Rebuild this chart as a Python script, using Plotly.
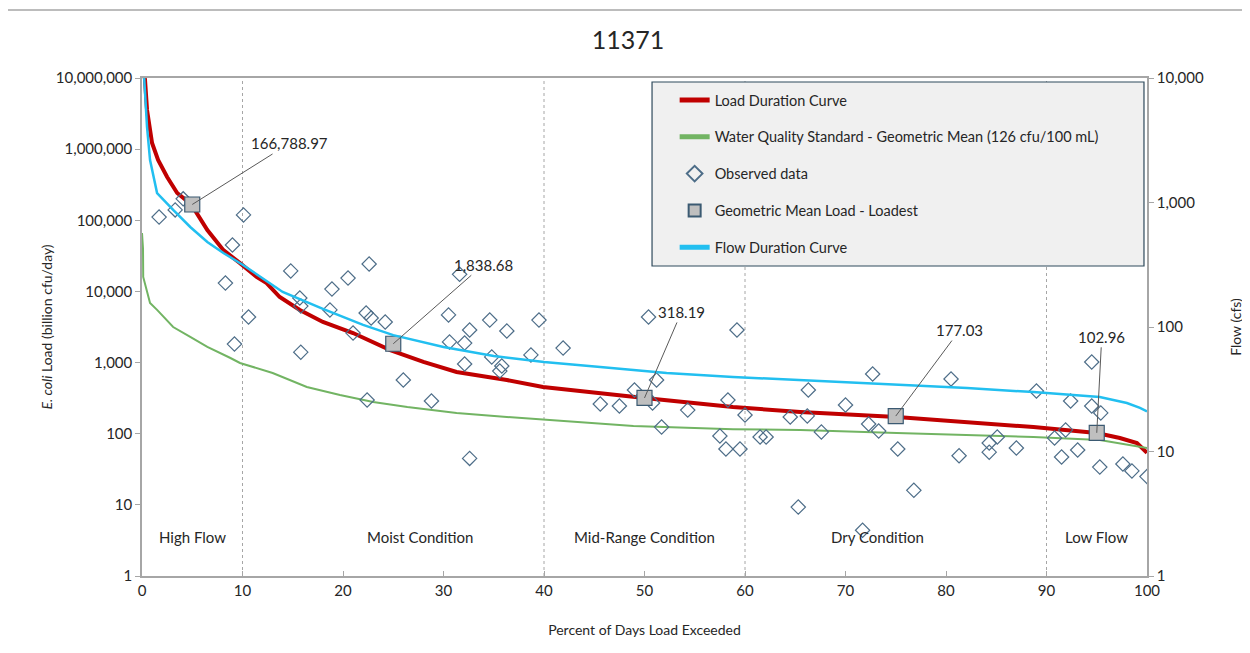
import numpy as np
import plotly.graph_objects as go

# ---------------- data ----------------
ldc_pct = [0, 0.3, 0.5, 1.0, 1.6, 2.5, 3.5, 4.9, 6.5, 8.1, 9.75, 11.4, 12.4, 13.7, 15.7, 18.0,
           21.0, 24.7, 28.0, 31.3, 36.3, 39.9, 50.0, 58.8, 65.5, 75.1, 88.7, 95.0, 97.3, 99.0, 100]
ldc_load = [2.0e7, 9.4e6, 3.55e6, 1.22e6, 7.03e5, 4.06e5, 2.42e5, 1.67e5, 7.3e4, 3.8e4, 2.5e4, 1.6e4,
            1.31e4, 8350, 5490, 3720, 2600, 1500, 1020, 737, 569, 454, 318, 237, 202, 172, 124,
            102, 87, 74, 54]

wqs_pct = [0, 0.1, 0.12, 0.5, 0.8, 1.5, 3.1, 4.8, 6.5, 8.8, 9.75, 13.0, 16.4, 19.7, 23.0, 26.4,
           31.3, 36.3, 41.9, 48.9, 58.8, 65.5, 75.1, 88.7, 95.3, 98.6, 100]
wqs_load = [66000, 40000, 16000, 9500, 6900, 5500, 3160, 2290, 1660, 1160, 986, 713, 454, 350, 279,
            237, 195, 172, 151, 128, 116, 113, 102, 90, 81.5, 69, 63]

flow_pct = [0, 0.2, 0.5, 0.8, 1.5, 3.1, 4.8, 6.5, 8.1, 10.05, 14.0, 18.0, 22.0, 25.0, 30.0, 35.0,
            40.0, 45.6, 52.2, 58.8, 65.5, 68.8, 75.4, 82.1, 88.7, 95.3, 98.0, 99.3, 100]
flow_cfs = [20000, 9640, 4040, 2190, 1190, 871, 636, 482, 393, 315, 191, 140, 104, 86, 69, 58.5,
            52.4, 47.7, 42.8, 39.7, 37.5, 36.1, 34.2, 32.4, 30.0, 27.4, 24.5, 22.4, 21.0]

obs_pct = [1.7, 3.3, 4.1, 10.1, 8.3, 9.0, 9.2, 10.6, 14.8, 15.7, 15.8, 15.8, 18.9, 18.7, 20.5, 22.6,
           21.0, 22.3, 22.8, 24.2, 22.4, 26.0, 28.8, 30.5, 31.6, 30.6, 32.1, 32.6, 32.1, 32.6, 34.6,
           34.8, 35.6, 35.8, 36.3, 38.7, 39.5, 41.9, 45.6, 47.5, 49.0, 50.4, 51.2, 50.8, 51.7, 54.3,
           57.5, 58.1, 58.3, 59.2, 60.0, 59.5, 61.5, 62.1, 65.3, 64.5, 66.2, 66.3, 67.6, 72.7, 70.0,
           72.3, 73.3, 75.2, 71.7, 76.8, 80.5, 81.3, 84.3, 84.3, 85.1, 87.0, 89.0, 90.8, 92.4, 91.9,
           91.5, 93.1, 94.5, 94.5, 95.4, 95.3, 97.6, 98.5, 100.0]
obs_load = [111000, 140000, 200000, 119000, 13100, 45000, 1820, 4370, 19400, 8080, 6230, 1400, 10800,
            5500, 15400, 24300, 2600, 4980, 4230, 3720, 298, 569, 288, 4670, 17400, 1950, 1880, 2870,
            955, 45, 3960, 1200, 760, 895, 2780, 1280, 3960, 1600, 262, 245, 411, 4370, 569, 270, 124,
            215, 93, 61, 298, 2870, 183, 61, 90, 90, 9.3, 172, 178, 411, 106, 690, 253, 137, 109, 61,
            4.4, 16, 587, 49, 74, 55, 90, 63, 398, 87, 288, 113, 47, 59, 1020, 245, 196, 34, 37.5,
            30, 25]

gm_pct = [5, 25, 50, 75, 95]
gm_load = [166788.97, 1838.68, 318.19, 177.03, 102.96]
gm_label_dx = [97, 90, 37, 64, 5]
gm_label_dy = [-61, -79, -86, -86, -96]

zone_names = ["High Flow", "Moist Condition", "Mid-Range Condition", "Dry Condition", "Low Flow"]
zone_label_x = [5, 27.7, 50, 73.2, 95]
zone_bounds = [10, 40, 60, 90]

# ---------------- figure ----------------
FONT = "Lato, 'Open Sans', sans-serif"
fig = go.Figure()

fig.add_trace(go.Scatter(x=ldc_pct, y=ldc_load, mode="lines", name="Load Duration Curve",
                         line=dict(color="#c00000", width=4), legendgroup="g1"))
fig.add_trace(go.Scatter(x=wqs_pct, y=wqs_load, mode="lines",
                         name="Water Quality Standard - Geometric Mean (126 cfu/100 mL)",
                         line=dict(color="#72b463", width=2), legendgroup="g2"))
fig.add_trace(go.Scatter(x=obs_pct, y=obs_load, mode="markers", name="Observed data",
                         marker=dict(symbol="diamond-open", size=11, color="#4d6d88",
                                     line=dict(width=1.2)), legendgroup="g3"))
fig.add_trace(go.Scatter(x=gm_pct, y=gm_load, mode="markers", name="Geometric Mean Load - Loadest",
                         marker=dict(symbol="square", size=15, color="#bfbfbf",
                                     line=dict(color="#3b5a72", width=1.2)), legendgroup="g4"))
fig.add_trace(go.Scatter(x=flow_pct, y=flow_cfs, mode="lines", name="Flow Duration Curve",
                         yaxis="y2", line=dict(color="#22bff0", width=2.5), legendgroup="g5"))

shapes = []
for b in zone_bounds:
    shapes.append(dict(type="line", xref="x", yref="paper", x0=b, x1=b, y0=0, y1=1,
                       line=dict(color="#a6a6a6", width=1, dash="dot"), layer="below"))
# top rule of the page
shapes.append(dict(type="line", xref="paper", yref="paper", x0=-0.138, x1=1.105, y0=1.1365, y1=1.1365,
                   line=dict(color="#a6a6a6", width=1.5)))
# legend box
shapes.append(dict(type="rect", xref="paper", yref="paper", x0=0.5075, x1=0.997, y0=0.6225, y1=0.992,
                   fillcolor="#f0f0f0", line=dict(color="#2f4a5c", width=1.2), layer="above"))

annotations = []
for name, zx in zip(zone_names, zone_label_x):
    annotations.append(dict(x=zx, y=np.log10(3.5), xref="x", yref="y", text=name, showarrow=False,
                            font=dict(size=15, color="#262626", family=FONT)))
for px, v, dx, dy in zip(gm_pct, gm_load, gm_label_dx, gm_label_dy):
    annotations.append(dict(x=px, y=np.log10(v), xref="x", yref="y", text=f"{v:,.2f}",
                            showarrow=True, arrowhead=0, arrowwidth=1, arrowcolor="#595959",
                            ax=dx, ay=dy, font=dict(size=15, color="#262626", family=FONT)))

fig.update_layout(
    width=1242, height=645,
    margin=dict(l=134, r=103, t=70, b=77, autoexpand=False),
    paper_bgcolor="white", plot_bgcolor="white",
    font=dict(family=FONT, size=14, color="#262626"),
    title=dict(text="11371", x=0.4992, xanchor="center", y=0.9504, yanchor="middle",
               font=dict(size=25, color="#262626", family=FONT)),
    xaxis=dict(range=[0, 100], dtick=10, showgrid=False, zeroline=False, showline=True,
               linecolor="#a6a6a6", linewidth=1.5, mirror=True, ticks="inside", ticklen=5,
               tickcolor="#a6a6a6", tickfont=dict(size=15), automargin=False,
               title=dict(text="Percent of Days Load Exceeded", font=dict(size=14), standoff=27)),
    yaxis=dict(type="log", range=[0, 7], dtick=1, tickformat=",", showgrid=False, zeroline=False,
               showline=True, linecolor="#a6a6a6", linewidth=1.5, ticks="outside", ticklen=5,
               tickcolor="#a6a6a6", tickfont=dict(size=15), automargin=False,
               title=dict(text="<i>E. coli</i> Load (billion cfu/day)", font=dict(size=14), standoff=0)),
    yaxis2=dict(type="log", range=[0, 4], dtick=1, tickformat=",", overlaying="y", side="right",
                showgrid=False, zeroline=False, showline=True, linecolor="#a6a6a6", linewidth=1.5,
                ticks="outside", ticklen=5, tickcolor="#a6a6a6", tickfont=dict(size=15),
                automargin=False,
                title=dict(text="Flow (cfs)", font=dict(size=14), standoff=28)),
    legend=dict(x=0.530, y=0.988, xanchor="left", yanchor="top", bgcolor="rgba(0,0,0,0)",
                borderwidth=0, tracegroupgap=15, font=dict(size=14.5), itemsizing="constant"),
    shapes=shapes,
    annotations=annotations,
    showlegend=True,
)

fig.write_html("out.html")
